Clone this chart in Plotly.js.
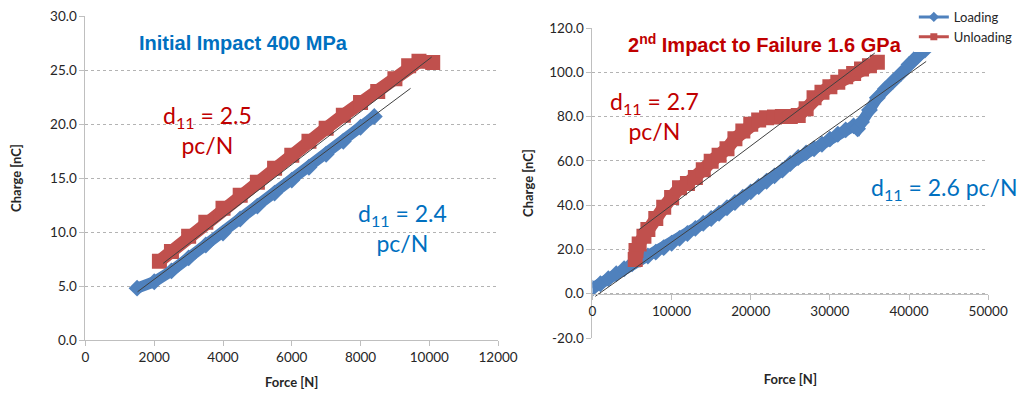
<!DOCTYPE html>
<html>
<head>
<meta charset="utf-8">
<script src="https://cdn.plot.ly/plotly-3.0.1.min.js"></script>
<style>html,body{margin:0;padding:0;background:#fff;}#chart{width:1018px;height:393px;}</style>
</head>
<body>
<div id="chart"></div>
<script>
// ---- Left chart: Initial Impact 400 MPa ----
var leftLoadForce  = [1500,2000,2500,3000,3500,4000,4500,5000,5500,6000,6500,7000,7500,8000,8400];
var leftLoadCharge = [4.8,5.4,6.4,7.6,8.8,9.9,11.2,12.4,13.6,14.8,16.0,17.2,18.4,19.7,20.7];
var leftUnloadForce  = [2150,2500,3000,3500,4000,4500,5000,5500,6000,6500,7000,7500,8000,8500,9000,9400,9700,10100];
var leftUnloadCharge = [7.3,8.2,9.6,10.9,12.2,13.4,14.6,15.9,17.1,18.4,19.6,20.8,22.0,23.0,24.2,25.4,25.8,25.7];
var leftLoadTrendForce = [1515,9455];
var leftLoadTrendCharge = [4.47,23.3];
var leftUnloadTrendForce = [2260,10070];
var leftUnloadTrendCharge = [7.1,26.2];

// ---- Right chart: 2nd Impact to Failure 1.6 GPa ----
var rightLoadForce = [0,1000,2000,3000,4000,5000,6000,7000,8000,9000,10000,11000,12000,13000,14000,15000,16000,17000,18000,19000,20000,21000,22000,23000,24000,25000,26000,27000,28000,29000,30000,31000,32000,33000,33500,34000,35000,36000,37000,38000,39000,40000,41000,42000];
var rightLoadCharge = [2.5,4.5,6.8,9.0,11.3,13.5,15.5,17.0,18.8,20.8,22.8,25.0,27.2,29.5,31.8,34.0,36.3,38.8,41.2,43.6,46.0,48.4,50.8,53.2,55.8,58.8,61.5,63.6,65.5,67.5,69.8,72.0,74.0,75.8,74.5,77.5,83.0,88.5,92.5,96.0,99.5,103.5,107.0,110.0];
var rightUnloadForce = [5400,5500,5900,6500,7000,8000,9000,10000,11000,12000,13000,14000,15000,16000,17000,18000,19000,20000,21000,22000,23000,24000,25000,26000,27000,28000,29000,30000,31000,32000,33000,34000,35000,36000];
var rightUnloadCharge = [15.5,19.5,22.5,26,29,34,39,43.5,47.8,49.8,52.5,56,59.8,62.5,65.5,70,73.5,76.5,78.5,79.5,79.8,80,80,80.5,83.5,88.5,91,93.5,95.5,98,99.5,101.5,103,104.5];
var rightLoadTrendForce = [350,42170];
var rightLoadTrendCharge = [-1.2,104.9];
var rightUnloadTrendForce = [5860,35680];
var rightUnloadTrendCharge = [28.9,108.7];

// ---- Tick labels ----
var leftXTicks = [0,2000,4000,6000,8000,10000,12000];
var leftYTicks = [0,5,10,15,20,25,30];
var rightXTicks = [0,10000,20000,30000,40000,50000];
var rightYTicks = [-20,0,20,40,60,80,100,120];
var rightYTickText = ['-20.0','0.0','20.0','40.0','60.0','80.0','100.0','120.0'];
var seriesNames = ['Loading','Unloading'];

var BLUE = '#4F81BD', RED = '#C0504D', TREND = '#404040';
var FONT = 'Lato, "Liberation Sans", sans-serif';
var ARIAL = '"Liberation Sans", Arial, sans-serif';

function band(x, y, xa, ya, color, symbol, size, width) {
  return {x: x, y: y, xaxis: xa, yaxis: ya, type: 'scatter', mode: 'lines+markers',
    line: {color: color, width: width}, marker: {color: color, symbol: symbol, size: size},
    showlegend: false, hoverinfo: 'skip'};
}
function trend(x, y, xa, ya) {
  return {x: x, y: y, xaxis: xa, yaxis: ya, type: 'scatter', mode: 'lines',
    line: {color: TREND, width: 1}, showlegend: false, hoverinfo: 'skip'};
}

var data = [
  band(leftUnloadForce, leftUnloadCharge, 'x', 'y', RED, 'square', 15, 13),
  band(leftLoadForce, leftLoadCharge, 'x', 'y', BLUE, 'diamond', 13, 11),
  trend(leftLoadTrendForce, leftLoadTrendCharge, 'x', 'y'),
  trend(leftUnloadTrendForce, leftUnloadTrendCharge, 'x', 'y'),
  band(rightLoadForce, rightLoadCharge, 'x2', 'y2', BLUE, 'diamond', 13, 11),
  band(rightUnloadForce, rightUnloadCharge, 'x2', 'y2', RED, 'square', 15, 13),
  trend(rightLoadTrendForce, rightLoadTrendCharge, 'x2', 'y2'),
  trend(rightUnloadTrendForce, rightUnloadTrendCharge, 'x2', 'y2'),
  {x: [null], y: [null], xaxis: 'x2', yaxis: 'y2', type: 'scatter', mode: 'lines+markers', name: seriesNames[0],
    line: {color: BLUE, width: 3}, marker: {color: BLUE, symbol: 'diamond', size: 8}},
  {x: [null], y: [null], xaxis: 'x2', yaxis: 'y2', type: 'scatter', mode: 'lines+markers', name: seriesNames[1],
    line: {color: RED, width: 3}, marker: {color: RED, symbol: 'square', size: 7}}
];

var tickFont = {family: FONT, size: 13.5, color: '#262626'};
var titleFont = {family: FONT, size: 13, color: '#262626'};
var axisCommon = {showline: true, linecolor: '#bfbfbf', linewidth: 1, ticks: 'outside', ticklen: 5,
  tickcolor: '#bfbfbf', tickfont: tickFont, zeroline: false, fixedrange: true};

function whiteBox(x0, y0, x1, y1) {
  return {type: 'rect', xref: 'paper', yref: 'paper', layer: 'between',
    x0: x0/1018, x1: x1/1018, y0: 1-y1/393, y1: 1-y0/393,
    fillcolor: '#ffffff', line: {width: 0}};
}
function label(px, py, text, size, color, family, extra) {
  return Object.assign({xref: 'paper', yref: 'paper', x: px/1018, y: 1-py/393, showarrow: false,
    xanchor: 'center', yanchor: 'middle', text: text,
    font: {family: family, size: size, color: color}}, extra || {});
}

var layout = {
  width: 1018, height: 393,
  margin: {l: 0, r: 0, t: 0, b: 0},
  paper_bgcolor: '#ffffff', plot_bgcolor: '#ffffff',
  showlegend: true,
  legend: {x: 0.903, y: 0.995, xanchor: 'left', yanchor: 'top', bgcolor: '#ffffff',
    font: {family: FONT, size: 13, color: '#262626'}, itemwidth: 30, tracegroupgap: 0},
  xaxis: Object.assign({}, axisCommon, {domain: [86/1018, 501/1018], range: [0, 12000],
    tickvals: leftXTicks, tickformat: 'd', showgrid: false, anchor: 'y',
    title: {text: '<b>Force [N]</b>', font: titleFont, standoff: 13}}),
  yaxis: Object.assign({}, axisCommon, {domain: [53/393, 377/393], range: [0, 30],
    tickvals: leftYTicks, tickformat: '.1f', showgrid: true, gridcolor: '#b3b3b3', griddash: 'dot', anchor: 'x',
    title: {text: '<b>Charge [nC]</b>', font: titleFont, standoff: 25}}),
  xaxis2: Object.assign({}, axisCommon, {domain: [596/1018, 994/1018], range: [0, 50000],
    tickvals: rightXTicks, tickformat: 'd', showgrid: false, anchor: 'free', position: (393-294)/393,
    title: {text: '<b>Force [N]</b>', font: titleFont, standoff: 56}}),
  yaxis2: Object.assign({}, axisCommon, {domain: [55/393, 365/393], range: [-20, 120],
    tickvals: rightYTicks, ticktext: rightYTickText, showgrid: true, gridcolor: '#b3b3b3', griddash: 'dot', anchor: 'x2',
    title: {text: '<b>Charge [nC]</b>', font: titleFont, standoff: 12}}),
  shapes: [
    whiteBox(138, 92, 282, 166),
    whiteBox(325, 194, 485, 296),
    whiteBox(598, 86, 717, 150),
    whiteBox(857, 170, 1018, 210)
  ],
  annotations: [
    label(245, 43, '<b>Initial Impact 400 MPa</b>', 20, '#0070C0', ARIAL),
    label(209, 130, 'd<sub>11</sub> = 2.5<br>pc/N', 23, '#C00000', FONT),
    label(405, 228, 'd<sub>11</sub> = 2.4<br>pc/N', 23, '#0070C0', FONT),
    label(770, 43, '<b>2<sup>nd</sup> Impact to Failure 1.6 GPa</b>', 20, '#C00000', ARIAL),
    label(658, 116, 'd<sub>11</sub> = 2.7<br>pc/N', 23, '#C00000', FONT),
    label(950, 188, 'd<sub>11</sub> = 2.6 pc/N', 23, '#0070C0', FONT)
  ]
};

Plotly.newPlot('chart', data, layout, {displayModeBar: false, staticPlot: true});
</script>
</body>
</html>
